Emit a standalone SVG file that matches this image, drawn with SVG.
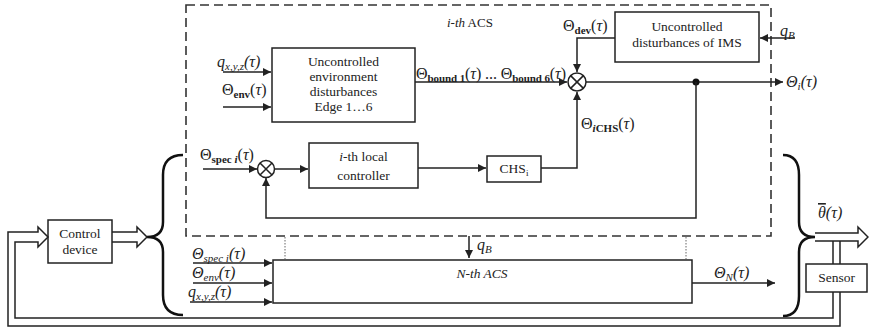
<svg xmlns="http://www.w3.org/2000/svg" width="869" height="331" viewBox="0 0 869 331">
<defs>
<marker id="ah" viewBox="0 0 10 10" refX="10" refY="5" markerWidth="8" markerHeight="8" markerUnits="userSpaceOnUse" orient="auto">
<path d="M0,0 L10,5 L0,10 z" fill="#222"/>
</marker>
</defs>
<style>
.box{fill:#fff;stroke:#222;stroke-width:1.5}
.ln{fill:none;stroke:#222;stroke-width:1.5}
.ar{fill:none;stroke:#222;stroke-width:1.5;marker-end:url(#ah)}
.dash{fill:none;stroke:#333;stroke-width:1.6;stroke-dasharray:9 5}
.dot{fill:none;stroke:#666;stroke-width:1;stroke-dasharray:1.5 1.5}
.brace{fill:none;stroke:#111;stroke-width:2.5}
.t{font-family:"Liberation Serif",serif;font-size:13.5px;fill:#222;text-anchor:middle}
.lb{font-family:"Liberation Serif",serif;font-size:16px;fill:#222}
.it{font-style:italic}
.sb{font-size:11px;font-weight:bold}
.si{font-size:11px;font-style:italic}
</style>

<rect class="dash" x="186" y="5" width="585" height="231"/>
<text class="lb" x="447" y="27" font-size="13"><tspan class="it" font-size="13">i-th</tspan><tspan font-size="13"> ACS</tspan></text>

<g id="env-box">
<rect class="box" x="272" y="48" width="143" height="74"/>
<text class="t" x="343.5" y="66">Uncontrolled</text>
<text class="t" x="343.5" y="81">environment</text>
<text class="t" x="343.5" y="96">disturbances</text>
<text class="t" x="343.5" y="111">Edge 1…6</text>
</g>

<g id="ims-box">
<rect class="box" x="615" y="12" width="144" height="50"/>
<text class="t" x="687" y="31">Uncontrolled</text>
<text class="t" x="687" y="47">disturbances of IMS</text>
</g>

<g id="sum1">
<circle cx="577" cy="82" r="9" class="ln" fill="#fff"/>
<path class="ln" d="M570.6,75.6 L583.4,88.4 M583.4,75.6 L570.6,88.4"/>
</g>

<g id="sum2">
<circle cx="266" cy="169" r="8.5" class="ln" fill="#fff"/>
<path class="ln" d="M260,163 L272,175 M272,163 L260,175"/>
</g>

<g id="controller">
<rect class="box" x="309" y="143" width="109" height="45"/>
<text class="t" x="363.5" y="161"><tspan class="it">i</tspan>-th local</text>
<text class="t" x="363.5" y="180">controller</text>
</g>

<g id="chs">
<rect class="box" x="487" y="156" width="54" height="26"/>
<text class="t" x="514" y="173">CHS<tspan font-size="9" dy="3">i</tspan></text>
</g>

<g id="nth-acs">
<rect class="box" x="273" y="260" width="419" height="43"/>
<text class="t it" x="482" y="278">N-th ACS</text>
</g>

<g id="control-device">
<rect class="box" x="48" y="220" width="64" height="43"/>
<text class="t" x="80" y="238">Control</text>
<text class="t" x="80" y="254">device</text>
</g>

<g id="sensor">
<rect class="box" x="806" y="264" width="61" height="28"/>
<text class="t" x="836.5" y="282">Sensor</text>
</g>

<g id="connectors">
<path class="ar" d="M223,72 L271,72"/>
<path class="ar" d="M223,107 L271,107"/>
<path class="ar" d="M415,82 L567,82"/>
<path class="ar" d="M615,38 L577,38 L577,72"/>
<path class="ar" d="M795,38 L760,38"/>
<path class="ar" d="M586,82 L783,82"/>
<circle cx="696" cy="82" r="3.5" fill="#111"/>
<path class="ar" d="M696,82 L696,218 L266,218 L266,178"/>
<path class="ar" d="M203,169 L257,169"/>
<path class="ar" d="M274.5,169 L308,169"/>
<path class="ar" d="M418,168 L486,168"/>
<path class="ar" d="M541,168 L577,168 L577,92"/>
<path class="ar" d="M469,236 L469,258"/>
<path class="dot" d="M285,237 L285,259 M686,237 L686,259"/>
<path class="ar" d="M193,263 L272,263"/>
<path class="ar" d="M193,283 L272,283"/>
<path class="ar" d="M190,302 L272,302"/>
<path class="ar" d="M692,283 L775,283"/>
<path class="brace" d="M183,155 Q163,155 163,175 L163,222 Q163,237 147,237 Q163,237 163,252 L163,295 Q163,315 183,315"/>
<path class="brace" d="M783,155 Q799,155 799,175 L799,222 Q799,237 815,237 Q799,237 799,252 L799,296 Q799,316 783,316"/>
<path class="ln" fill="#fff" d="M112,232 L137,232 L137,227 L147,237 L137,247 L137,242 L112,242"/>
<path class="ln" fill="#fff" d="M815,233 L858,233 L858,227 L868,237 L858,247 L858,241 L815,241"/>
<path class="ln" d="M833,241 L833,264 M840,241 L840,264"/>
<path class="ln" d="M840,292 L840,326 L8,326 L8,232 L38,232 L38,227 L48,237 L38,247 L38,242 L15,242 L15,318 L833,318 L833,292"/>
</g>

<g id="labels">
<text class="lb it" x="217" y="67">q<tspan class="si" dy="3">x,y,z</tspan><tspan dy="-3">(τ)</tspan></text>
<text class="lb" x="222" y="95">Θ<tspan class="sb" dy="3">env</tspan><tspan dy="-3">(</tspan><tspan class="it">τ</tspan>)</text>
<text class="lb" x="416" y="79" font-size="15" textLength="150" lengthAdjust="spacing">Θ<tspan class="sb" dy="3">bound 1</tspan><tspan dy="-3">(</tspan><tspan class="it">τ</tspan>) ... Θ<tspan class="sb" dy="3">bound 6</tspan><tspan dy="-3">(</tspan><tspan class="it">τ</tspan>)</text>
<text class="lb" x="563" y="31">Θ<tspan class="sb" dy="3">dev</tspan><tspan dy="-3">(</tspan><tspan class="it">τ</tspan>)</text>
<text class="lb it" x="780" y="36">q<tspan class="si" dy="3">B</tspan></text>
<text class="lb it" x="786" y="87">Θ<tspan class="si" dy="3">i</tspan><tspan dy="-3">(τ)</tspan></text>
<text class="lb" x="581" y="129">Θ<tspan class="sb it" dy="3">i</tspan><tspan class="sb">CHS</tspan><tspan dy="-3">(</tspan><tspan class="it">τ</tspan>)</text>
<text class="lb" x="200" y="160">Θ<tspan class="sb" dy="3">spec </tspan><tspan class="sb it">i</tspan><tspan dy="-3">(</tspan><tspan class="it">τ</tspan>)</text>
<text class="lb it" x="477" y="250">q<tspan class="si" dy="3">B</tspan></text>
<text class="lb it" x="192" y="259">Θ<tspan class="si" dy="3">spec i</tspan><tspan dy="-3">(τ)</tspan></text>
<text class="lb it" x="192" y="278">Θ<tspan class="si" dy="3">env</tspan><tspan dy="-3">(τ)</tspan></text>
<text class="lb it" x="188" y="297">q<tspan class="si" dy="3">x,y,z</tspan><tspan dy="-3">(τ)</tspan></text>
<text class="lb it" x="714" y="278">Θ<tspan class="si" dy="3">N</tspan><tspan dy="-3">(τ)</tspan></text>
<text class="lb it" x="818" y="218"><tspan text-decoration="overline">θ</tspan>(τ)</text>
</g>
</svg>
